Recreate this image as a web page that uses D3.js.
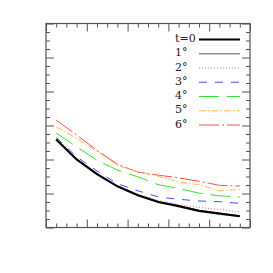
<!DOCTYPE html>
<html>
<head>
<meta charset="utf-8">
<script src="https://cdn.jsdelivr.net/npm/d3@7"></script>
<style>
  html, body { margin: 0; padding: 0; background: #fff; }
  svg { display: block; }
</style>
</head>
<body>
<div id="chart"></div>
<script>
// x positions of the samples and each curve's values
const xVals = [0.25, 0.75, 1.25, 1.75, 2.25, 2.75, 3.25, 3.75, 4.25, 4.75];
const t0 = [2.59, 2.0, 1.57, 1.21, 0.95, 0.75, 0.63, 0.49, 0.41, 0.33];
const deg1 = [2.6, 2.01, 1.58, 1.22, 0.96, 0.76, 0.64, 0.5, 0.42, 0.34];
const deg2 = [2.59, 2.0, 1.58, 1.23, 0.98, 0.8, 0.68, 0.59, 0.53, 0.46];
const deg3 = [2.65, 2.08, 1.66, 1.29, 1.08, 0.9, 0.83, 0.78, 0.76, 0.71];
const deg4 = [2.78, 2.37, 1.98, 1.69, 1.49, 1.26, 1.15, 1.01, 0.93, 0.9];
const deg5 = [2.96, 2.62, 2.25, 1.83, 1.64, 1.51, 1.34, 1.26, 1.08, 1.12];
const deg6 = [3.16, 2.72, 2.27, 1.86, 1.63, 1.54, 1.46, 1.36, 1.24, 1.22];
const labels = ["t=0", "1\u00b0", "2\u00b0", "3\u00b0", "4\u00b0", "5\u00b0", "6\u00b0"];

const series = [
  { name: labels[0], values: t0, color: "#000", width: 2.2, dash: null },
  { name: labels[1], values: deg1, color: "#8c8c8c", width: 1.3, dash: null },
  { name: labels[2], values: deg2, color: "#e07878", width: 1, dash: "1,2" },
  { name: labels[3], values: deg3, color: "#4a4aff", width: 1, dash: "8,8" },
  { name: labels[4], values: deg4, color: "#33e033", width: 1, dash: "20,8" },
  { name: labels[5], values: deg5, color: "#ffbb50", width: 1, dash: "7,2,1.5,2" },
  { name: labels[6], values: deg6, color: "#ff4d4d", width: 1, dash: "20,3,2,3" }
];

const W = 273, H = 273;
const mLeft = 46, mRight = 250, mTop = 23.5, mBottom = 227.5;

const svg = d3.select("#chart").append("svg")
  .attr("width", W)
  .attr("height", H);

const x = d3.scaleLinear().domain([0, 5]).range([mLeft, mRight]);
const y = d3.scaleLinear().domain([0, 6]).range([mBottom, mTop]);

const majorX = d3.range(0, 6);
const minorX = d3.range(0, 5.01, 0.25).filter(v => v % 1 !== 0);
const majorY = d3.range(0, 7);
const minorY = d3.range(0, 6.01, 0.25).filter(v => v % 1 !== 0);

// ticks on all four sides, pointing inward, no labels
function addAxis(axisFn, scale, vals, size, tf) {
  svg.append("g")
    .attr("transform", tf)
    .call(axisFn(scale).tickValues(vals).tickSize(-size).tickFormat(""))
    .call(g => g.select(".domain").remove())
    .call(g => g.selectAll("line").attr("stroke", "#555").attr("stroke-width", 1));
}

addAxis(d3.axisBottom, x, majorX, 8, `translate(0,${mBottom})`);
addAxis(d3.axisBottom, x, minorX, 4, `translate(0,${mBottom})`);
addAxis(d3.axisTop, x, majorX, 8, `translate(0,${mTop})`);
addAxis(d3.axisTop, x, minorX, 4, `translate(0,${mTop})`);
addAxis(d3.axisLeft, y, majorY, 8, `translate(${mLeft},0)`);
addAxis(d3.axisLeft, y, minorY, 4, `translate(${mLeft},0)`);
addAxis(d3.axisRight, y, majorY, 8, `translate(${mRight},0)`);
addAxis(d3.axisRight, y, minorY, 4, `translate(${mRight},0)`);

svg.append("rect")
  .attr("x", mLeft)
  .attr("y", mTop)
  .attr("width", mRight - mLeft)
  .attr("height", mBottom - mTop)
  .attr("fill", "none")
  .attr("stroke", "#555")
  .attr("stroke-width", 1.2);

const line = d3.line()
  .x((d, i) => x(xVals[i]))
  .y(d => y(d));

// draw the last series first so t=0 ends on top
series.slice().reverse().forEach(s => {
  svg.append("path")
    .datum(s.values)
    .attr("d", line)
    .attr("fill", "none")
    .attr("stroke", s.color)
    .attr("stroke-width", s.width)
    .attr("stroke-dasharray", s.dash);
});

// legend
const legend = svg.append("g");
series.forEach((s, i) => {
  const ly = 39.5 + i * 14.25;
  legend.append("text")
    .attr("x", 175)
    .attr("y", ly + 2.5)
    .text(s.name)
    .style("font-family", "'DejaVu Serif', serif")
    .style("font-size", "11px")
    .style("fill", "#222");
  legend.append("line")
    .attr("x1", 199)
    .attr("x2", 240)
    .attr("y1", ly)
    .attr("y2", ly)
    .attr("stroke", s.color)
    .attr("stroke-width", s.width)
    .attr("stroke-dasharray", s.dash);
});
</script>
</body>
</html>
